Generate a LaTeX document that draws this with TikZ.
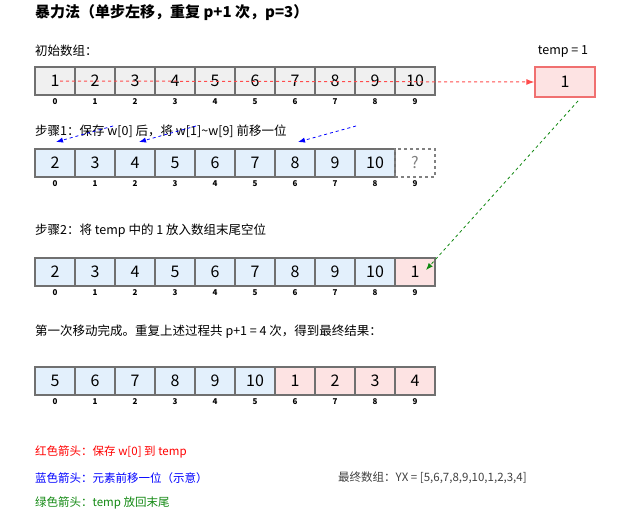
\documentclass[tikz,border=0pt]{standalone}
\usepackage{fontspec}
\setmainfont{Noto Sans CJK SC}
\usetikzlibrary{arrows.meta}
\definecolor{gbg}{HTML}{F0F0F0}
\definecolor{bbg}{HTML}{E3F0FC}
\definecolor{rbg}{HTML}{FDE3E3}
\definecolor{bord}{HTML}{707070}
\definecolor{rbord}{HTML}{F07070}
\definecolor{ggreen}{HTML}{118811}
\tikzset{
 cell/.style={draw=bord,line width=1.3pt,minimum width=40pt,minimum height=28pt,inner sep=0pt,font=\fontsize{16}{16}\selectfont},
 idx/.style={font=\fontsize{8}{8}\selectfont\bfseries,inner sep=0pt},
 lbl/.style={anchor=west,inner sep=0pt,font=\fontsize{12.5}{12.5}\selectfont},
 leg/.style={anchor=west,inner sep=0pt,font=\fontsize{11.5}{11.5}\selectfont},
}
\begin{document}
\begin{tikzpicture}[x=1pt,y=-1pt]
\useasboundingbox (0,0) rectangle (640,519);
\node[anchor=west,inner sep=0pt,font=\fontsize{15}{15}\selectfont\bfseries] (title) at (35,13) {暴力法（单步左移，重复 p+1 次，p=3）};
\node[lbl] (l1) at (35,51) {初始数组：};
\node[lbl] (l2) at (35,131) {步骤1：保存 w[0] 后，将 w[1]\textasciitilde w[9] 前移一位};
\node[lbl] (l3) at (35,231) {步骤2：将 temp 中的 1 放入数组末尾空位};
\node[lbl] (l4) at (35,332) {第一次移动完成。重复上述过程共 p+1 = 4 次，得到最终结果：};
% row A
\foreach \v [count=\i from 0] in {1,...,10}{
 \node[cell,fill=gbg] (a\i) at (55+40*\i,81) {\v};
 \node[idx] (ai\i) at (55+40*\i,102) {\i};
}
% row B
\foreach \v [count=\i from 0] in {2,3,4,5,6,7,8,9,10}{
 \node[cell,fill=bbg] (b\i) at (55+40*\i,163) {\v};
 \node[idx] (bi\i) at (55+40*\i,184) {\i};
}
\node[cell,draw=gray,dashed,text=gray] (b9) at (415,163) {?};
\node[idx] (bi9) at (415,184) {9};
% row C
\foreach \v [count=\i from 0] in {2,3,4,5,6,7,8,9,10}{
 \node[cell,fill=bbg] (c\i) at (55+40*\i,272) {\v};
 \node[idx] (ci\i) at (55+40*\i,293) {\i};
}
\node[cell,fill=rbg] (c9) at (415,272) {1};
\node[idx] (ci9) at (415,293) {9};
% row D
\foreach \v [count=\i from 0] in {5,6,7,8,9,10}{
 \node[cell,fill=bbg] (d\i) at (55+40*\i,381) {\v};
 \node[idx] (di\i) at (55+40*\i,402) {\i};
}
\foreach \v [count=\i from 6] in {1,2,3,4}{
 \node[cell,fill=rbg] (d\i) at (55+40*\i,381) {\v};
 \node[idx] (di\i) at (55+40*\i,402) {\i};
}
% temp
\node[cell,draw=rbord,fill=rbg,minimum width=60pt,minimum height=30pt] (temp) at (565,82) {1};
\node[font=\fontsize{12.5}{12.5}\selectfont,inner sep=0pt] (tl) at (563,51) {temp = 1};
% arrows
\coordinate (rs) at (60,81);
\draw[red!70,dashed,line width=1pt,-{Latex[length=8pt]}] (rs) -- (temp.west);
\coordinate (bs1) at (113,126); \coordinate (be1) at (56,142);
\coordinate (bs2) at (196,126); \coordinate (be2) at (139,142);
\coordinate (bs3) at (356,126); \coordinate (be3) at (298,142);
\foreach \k in {1,2,3}{
 \draw[blue,dashed,line width=0.8pt,-{Latex[length=7pt]}] (bs\k) -- (be\k);
}
\coordinate (gs) at (578,101);
\coordinate (ge) at (426,270);
\draw[ggreen,dashed,line width=0.8pt,-{Latex[length=7pt]}] (gs) -- (ge);
% legend
\node[leg,text=red] (g1) at (35,452) {红色箭头：保存 w[0] 到 temp};
\node[leg,text=blue] (g2) at (35,478) {蓝色箭头：元素前移一位（示意）};
\node[leg,text=ggreen] (g3) at (35,503) {绿色箭头：temp 放回末尾};
\node[leg,text=black!75] (g4) at (338,478) {最终数组：YX = [5,6,7,8,9,10,1,2,3,4]};
\end{tikzpicture}
\end{document}
